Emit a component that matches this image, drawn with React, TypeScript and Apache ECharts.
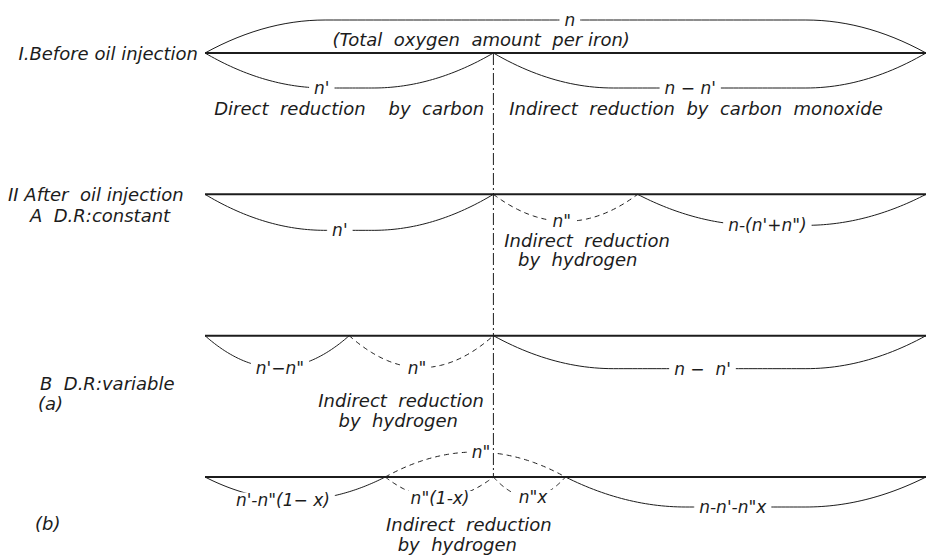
import { useEffect, useRef } from "react";
import * as echarts from "echarts";

// ---- data (oxygen amount per iron, total n = 100 units) ----
const rowNames = ["I", "II-A", "II-B(a)", "II-B(b)"];
const totalAmount = 100;
const directAmount = 40; // n'

const row1Breaks = [0, 40, 100];
const row1Labels = ["n'", "n − n'"];
const row1LabelAt = [16.2, 67.3];
const row1Hydrogen = [false, false];

const row2Breaks = [0, 40, 60, 100];
const row2Labels = ["n'", 'n"', "n-(n'+n\")"];
const row2LabelAt = [18.7, 49.5, 78];
const row2Hydrogen = [false, true, false];

const row3Breaks = [0, 20, 40, 100];
const row3Labels = ["n'−n\"", 'n"', "n −  n'"];
const row3LabelAt = [10.4, 29.4, 69];
const row3Hydrogen = [false, true, false];

const row4Breaks = [0, 25, 40, 50, 100];
const row4Labels = ["n'-n\"(1− x)", 'n"(1-x)', 'n"x', "n-n'-n\"x"];
const row4LabelAt = [10.8, 32.6, 45.5, 73.2];
const row4Hydrogen = [false, true, true, false];

const upperRow = [0, 3];
const upperFrom = [0, 25];
const upperTo = [100, 50];
const upperLabels = ["n", 'n"'];
const upperLabelAt = [50.6, 38.3];
const upperHydrogen = [false, true];

const noteTexts = [
  "(Total  oxygen  amount  per iron)",
  "Direct  reduction    by  carbon",
  "Indirect  reduction  by  carbon  monoxide",
  "Indirect  reduction",
  "by  hydrogen",
  "Indirect  reduction",
  "by  hydrogen",
  "Indirect  reduction",
  "by  hydrogen",
];
const noteRow = [0, 0, 0, 1, 1, 2, 2, 3, 3];
const noteAt = [38.3, 20.0, 68.1, 53.0, 51.7, 27.2, 26.8, 36.6, 35];

const sideTexts = [
  "I.Before oil injection",
  "II After  oil injection",
  "A  D.R:constant",
  "B  D.R:variable",
  "(a)",
  "(b)",
];

// ---- styles (pixel sizes / positions) ----
const noteDyPx = [-14, 55, 55, 46, 65, 65, 85, 47, 67];
const lowerDepthPx = [
  [35, 35],
  [36, 27, 31],
  [32, 32, 33],
  [23, 21, 20, 30],
];
const upperDepthPx = [33, 25];
const sideX = [198, 8, 30, 40, 38, 35];
const sideY = [53, 194, 215, 383, 403, 523];
const sideAlign = ["right", "left", "left", "left", "left", "left"];
const INK = "#1c1c1c";
const FONT = "italic 18px 'DejaVu Sans'";
const LABEL_FONT = "italic 17px 'DejaVu Sans'";
const SIDE_FONT = "italic 18px 'DejaVu Sans'";

const rowBreaks = [row1Breaks, row2Breaks, row3Breaks, row4Breaks];
const rowLabels = [row1Labels, row2Labels, row3Labels, row4Labels];
const rowLabelAt = [row1LabelAt, row2LabelAt, row3LabelAt, row4LabelAt];
const rowHydrogen = [row1Hydrogen, row2Hydrogen, row3Hydrogen, row4Hydrogen];

type Item = {
  kind: string;
  from: number;
  row: number;
  to: number;
  label?: string;
  labelAt?: number;
  dashed?: boolean;
  depth?: number;
  dy?: number;
};

function buildItems(): Item[] {
  const items: Item[] = [];
  rowBreaks.forEach((b, r) => {
    for (let i = 0; i < b.length - 1; i++) {
      items.push({
        kind: "lower",
        from: b[i],
        to: b[i + 1],
        row: r,
        label: rowLabels[r][i],
        labelAt: rowLabelAt[r][i],
        dashed: rowHydrogen[r][i],
        depth: lowerDepthPx[r][i],
      });
    }
  });
  upperRow.forEach((r, i) => {
    items.push({
      kind: "upper",
      from: upperFrom[i],
      to: upperTo[i],
      row: r,
      label: upperLabels[i],
      labelAt: upperLabelAt[i],
      dashed: upperHydrogen[i],
      depth: upperDepthPx[i],
    });
  });
  noteTexts.forEach((t, i) => {
    items.push({ kind: "note", from: noteAt[i], to: noteAt[i], row: noteRow[i], label: t, dy: noteDyPx[i] });
  });
  rowBreaks.forEach((b, r) => {
    items.push({ kind: "axis", from: b[0], to: b[b.length - 1], row: r });
  });
  items.push({ kind: "divider", from: directAmount, row: 0, to: rowNames.length - 1 });
  return items;
}

export default function App() {
  const ref = useRef<HTMLDivElement>(null);
  useEffect(() => {
    if (!ref.current) return;
    const chart = echarts.init(ref.current, undefined, { renderer: "svg" });
    const items = buildItems();
    const curveY = (x: number, x1: number, x2: number, y0: number, dir: number, depth: number) => {
      const w = x2 - x1;
      const L = Math.min(120, w / 2);
      const dist = Math.max(0, Math.min(x - x1, x2 - x));
      const r = Math.min(dist / L, 1);
      return y0 + dir * depth * (1 - (1 - r) * (1 - r));
    };
    chart.setOption({
      animation: false,
      backgroundColor: "#ffffff",
      grid: { left: 205, right: 1, top: 53, bottom: 78 },
      xAxis: { type: "value", min: 0, max: totalAmount, show: false },
      yAxis: { type: "value", min: 0, max: rowNames.length - 1, inverse: true, show: false },
      graphic: sideTexts.map((t, i) => ({
        type: "text",
        x: sideX[i],
        y: sideY[i],
        style: {
          text: t,
          font: SIDE_FONT,
          fill: INK,
          align: sideAlign[i],
          verticalAlign: "middle",
          lineHeight: 16,
        },
      })),
      series: [
        {
          type: "custom",
          clip: false,
          silent: true,
          data: items.map((it) => [it.from, it.row, it.to]),
          renderItem: (params: any, api: any) => {
            const it = items[params.dataIndex];
            const p1 = api.coord([api.value(0), api.value(1)]);
            const p2 = api.coord([api.value(2), api.value(1)]);
            if (it.kind === "axis") {
              return {
                type: "line",
                shape: { x1: p1[0], y1: p1[1], x2: p2[0], y2: p2[1] },
                style: { stroke: INK, lineWidth: 2 },
              };
            }
            if (it.kind === "divider") {
              const q = api.coord([api.value(0), api.value(2)]);
              return {
                type: "line",
                z2: 20,
                shape: { x1: p1[0], y1: p1[1], x2: q[0], y2: q[1] },
                style: { stroke: INK, lineWidth: 1, lineDash: [12, 3, 2, 3] },
              };
            }
            if (it.kind === "note") {
              return {
                type: "text",
                x: p1[0],
                y: p1[1] + (it.dy || 0),
                style: {
                  text: it.label,
                  font: FONT,
                  fill: INK,
                  align: "center",
                  verticalAlign: "middle",
                  lineHeight: 16,
                },
              };
            }
            const dir = it.kind === "upper" ? -1 : 1;
            const depth = it.depth || 30;
            const pts: number[][] = [];
            const N = 90;
            for (let i = 0; i <= N; i++) {
              const x = p1[0] + ((p2[0] - p1[0]) * i) / N;
              pts.push([x, curveY(x, p1[0], p2[0], p1[1], dir, depth)]);
            }
            const lx = api.coord([it.labelAt, it.row])[0];
            const ly = curveY(lx, p1[0], p2[0], p1[1], dir, depth);
            return {
              type: "group",
              children: [
                {
                  type: "polyline",
                  shape: { points: pts },
                  style: { stroke: INK, fill: "none", lineWidth: 1, lineDash: it.dashed ? [5, 4] : null },
                },
                {
                  type: "text",
                  x: lx,
                  y: ly,
                  z2: 5,
                  style: {
                    text: it.label,
                    font: LABEL_FONT,
                    fill: INK,
                    align: "center",
                    verticalAlign: "middle",
                    lineHeight: 14,
                    backgroundColor: "#ffffff",
                    padding: [0, 5],
                  },
                },
              ],
            };
          },
        },
      ],
    });
    return () => chart.dispose();
  }, []);
  return <div ref={ref} style={{ position: "absolute", left: 0, top: 0, width: 927, height: 555 }} />;
}
